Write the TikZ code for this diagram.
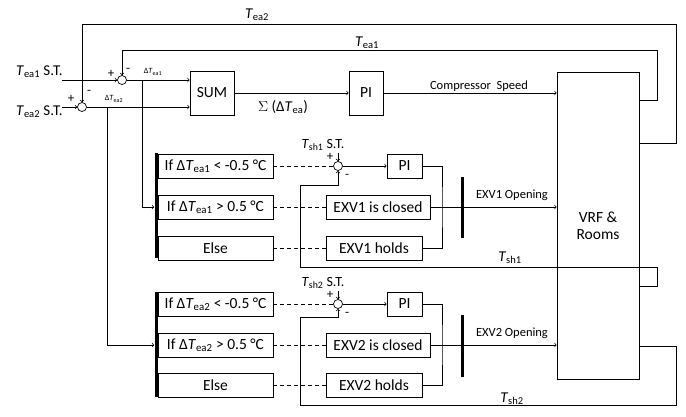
\documentclass[tikz,border=0pt]{standalone}
\usepackage{fontspec}
\setmainfont{Carlito}
\usetikzlibrary{arrows,positioning}
\newcommand{\Tx}[1]{\textit{T}\textsubscript{#1}}
\tikzstyle{block} = [rectangle, draw=black, minimum height=24pt, inner sep=0pt,
    font=\fontsize{15.5}{17}\selectfont]
\tikzstyle{junc} = [circle, draw=black, minimum size=9pt, inner sep=0pt]
\tikzstyle{bar} = [rectangle, fill=black, minimum width=3pt, inner sep=0pt]
\tikzstyle{arrow} = [->,>=to]
\tikzstyle{dashline} = [dash pattern=on 4pt off 3pt]
\tikzstyle{lbl} = [inner sep=0pt, font=\fontsize{15}{17}\selectfont]
\tikzstyle{small} = [inner sep=0pt, font=\fontsize{12.5}{14}\selectfont]
\tikzstyle{sign} = [inner sep=0pt, font=\fontsize{13}{14}\selectfont]

\begin{document}
\begin{tikzpicture}[x=1pt, y=-1pt, line width=0.7pt]
\useasboundingbox (0,0) rectangle (686,416);
% Set temperatures
\node[lbl, anchor=east] (tea1st) at (63,72) {\Tx{ea1} S.T.};
\node[lbl, anchor=east] (tea2st) at (63,112) {\Tx{ea2} S.T.};
\coordinate (in1) at (62,80);
\coordinate (in2) at (62,107);
\node[junc] (s1) at (122,80) {};
\node[junc] (s2) at (82,107) {};
\node[sign] at (111,74) {+};
\node[sign] at (128,70) {-};
\node[sign] at (71,99) {+};
\node[sign] at (89,92) {-};
% Compressor loop
\node[block, minimum width=44pt, minimum height=44pt] (sum) at (212,93) {SUM};
\node[block, minimum width=34pt, minimum height=44pt] (pic) at (366,93) {PI};
\node[block, minimum width=82pt, minimum height=307pt, align=center] (vrf) at (598,225.5) {VRF \&\\Rooms};
% Block 1
\node[bar, minimum height=105pt] (bar1) at (156,205.5) {};
\node[block, minimum width=115pt] (ifa1) at (215.5,166) {If Δ\Tx{ea1} < -0.5 °C};
\node[block, minimum width=115pt] (ifb1) at (215.5,207) {If Δ\Tx{ea1} > 0.5 °C};
\node[block, minimum width=115pt] (else1) at (215.5,248) {Else};
\node[junc] (sc1) at (338,166) {};
\node[block, minimum width=35pt] (pi1) at (404.5,166) {PI};
\node[block, minimum width=104pt] (closed1) at (378,207) {EXV1 is closed};
\node[block, minimum width=96pt] (holds1) at (374,248) {EXV1 holds};
\node[bar, minimum height=61pt] (obar1) at (462,207.5) {};
\coordinate (m1) at (442,207);
\node[lbl, font=\fontsize{14}{16}\selectfont] (tsh1st) at (323,145) {\Tx{sh1} S.T.};
\coordinate (tsh1in) at (338,153);
\node[sign] at (330,157) {+};
\node[sign] at (347,176) {-};
% Block 2
\node[bar, minimum height=105pt] (bar2) at (156,344.5) {};
\node[block, minimum width=115pt] (ifa2) at (215.5,304) {If Δ\Tx{ea2} < -0.5 °C};
\node[block, minimum width=115pt] (ifb2) at (215.5,345) {If Δ\Tx{ea2} > 0.5 °C};
\node[block, minimum width=115pt] (else2) at (215.5,385) {Else};
\node[junc] (sc2) at (338,304) {};
\node[block, minimum width=35pt] (pi2) at (404.5,304) {PI};
\node[block, minimum width=104pt] (closed2) at (378,345) {EXV2 is closed};
\node[block, minimum width=96pt] (holds2) at (374,385) {EXV2 holds};
\node[bar, minimum height=62pt] (obar2) at (462,346) {};
\coordinate (m2) at (442,345);
\node[lbl, font=\fontsize{14}{16}\selectfont] (tsh2st) at (323,283) {\Tx{sh2} S.T.};
\coordinate (tsh2in) at (338,291);
\node[sign] at (330,295) {+};
\node[sign] at (347,314) {-};
% Arrows
\draw[arrow] (in1) -- (s1);
\draw[arrow] (in2) -- (s2);
\draw[arrow] (s1) -- (sum.west |- s1);
\draw[arrow] (s2) -- (sum.west |- s2);
\draw[arrow] (sum) -- (pic);
\draw[arrow] (pic) -- (vrf.west |- pic);
\draw[arrow] (142,80) |- (bar1.west |- ifb1);
\draw[arrow] (107,107) |- (bar2.west |- ifb2);
\draw[dashline] (ifa1) -- (sc1);
\draw[dashline] (ifb1) -- (closed1);
\draw[dashline] (else1) -- (holds1);
\draw[arrow] (tsh1in) -- (sc1);
\draw[arrow] (sc1) -- (pi1);
\draw (pi1.east) -| (m1) |- (holds1.east);
\draw[arrow] (closed1) -- (vrf.west |- closed1);
\draw[dashline] (ifa2) -- (sc2);
\draw[dashline] (ifb2) -- (closed2);
\draw[dashline] (else2) -- (holds2);
\draw[arrow] (tsh2in) -- (sc2);
\draw[arrow] (sc2) -- (pi2);
\draw (pi2.east) -| (m2) |- (holds2.east);
\draw[arrow] (closed2) -- (vrf.west |- closed2);
% Feedback loops
\draw[arrow] (vrf.east |- 0,100) -| (657,50) -| (s1);
\draw[arrow] (vrf.east |- 0,143) -| (676,24) -| (s2);
\draw[arrow] (vrf.east |- 0,286) -| (657,267) -| (300,185) -| (sc1);
\draw[arrow] (vrf.east |- 0,346) -| (676,405) -| (300,317) -| (sc2);
% Signal labels
\node[inner sep=0pt, font=\fontsize{8}{9}\selectfont] at (153,72) {Δ\Tx{ea1}};
\node[inner sep=0pt, font=\fontsize{8}{9}\selectfont] at (114,99) {Δ\Tx{ea2}};
\node[lbl] at (283,107) {$\Sigma$ (Δ\Tx{ea})};
\node[small] at (479,86) {Compressor\ \ Speed};
\node[small] at (512,195) {EXV1 Opening};
\node[small] at (512,333) {EXV2 Opening};
\node[lbl] at (257,15) {\Tx{ea2}};
\node[lbl] at (367,43) {\Tx{ea1}};
\node[lbl] at (510,258) {\Tx{sh1}};
\node[lbl] at (512,399) {\Tx{sh2}};
\end{tikzpicture}
\end{document}
